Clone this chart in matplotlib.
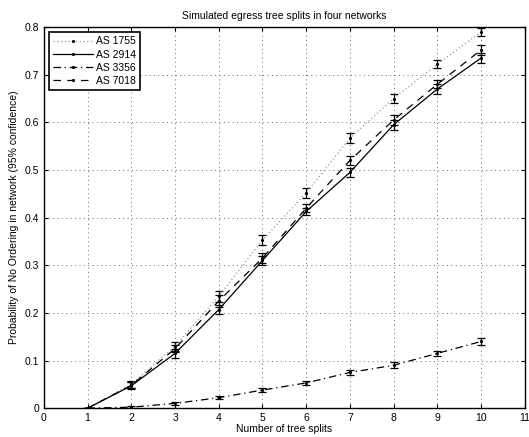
import matplotlib
matplotlib.use("Agg")
import matplotlib.pyplot as plt
from matplotlib.lines import Line2D

plt.rcParams['font.family'] = ['Liberation Sans', 'DejaVu Sans']

splits = [1, 2, 3, 4, 5, 6, 7, 8, 9, 10]
as1755 = [0.0, 0.050, 0.130, 0.235, 0.353, 0.452, 0.567, 0.650, 0.722, 0.790]
as1755_err = [0.0, 0.007, 0.009, 0.012, 0.010, 0.010, 0.010, 0.009, 0.008, 0.008]
as2914 = [0.0, 0.047, 0.115, 0.207, 0.310, 0.413, 0.495, 0.595, 0.670, 0.735]
as2914_err = [0.0, 0.007, 0.010, 0.010, 0.010, 0.008, 0.010, 0.010, 0.010, 0.010]
as3356 = [0.0, 0.002, 0.010, 0.022, 0.038, 0.053, 0.075, 0.090, 0.115, 0.140]
as3356_err = [0.0, 0.002, 0.003, 0.003, 0.004, 0.005, 0.006, 0.006, 0.006, 0.007]
as7018 = [0.0, 0.048, 0.125, 0.225, 0.315, 0.420, 0.520, 0.605, 0.680, 0.752]
as7018_err = [0.0, 0.006, 0.008, 0.012, 0.010, 0.008, 0.010, 0.010, 0.008, 0.010]

labels = ['AS 1755', 'AS 2914', 'AS 3356', 'AS 7018']
styles = [(0, (1, 2)), '-', (0, (6, 3, 1, 3)), (0, (6, 5))]
colors = ['#999999', 'black', 'black', 'black']

fig = plt.figure(figsize=(5.29, 4.37), dpi=100)
ax = fig.add_axes([0.083, 0.066, 0.909, 0.872])

series = [(as1755, as1755_err), (as2914, as2914_err), (as3356, as3356_err), (as7018, as7018_err)]
for (ys, es), lab, ls, c in zip(series, labels, styles, colors):
    ax.errorbar(splits, ys, yerr=es, fmt='.', linestyle=ls, color=c, ecolor='black',
                markersize=2.5, markerfacecolor='black', markeredgecolor='black',
                linewidth=0.9, elinewidth=0.9, capsize=3, capthick=0.9, label=lab)

ax.set_xlim(0, 11)
ax.set_ylim(0, 0.8)
ax.set_xticks(range(0, 12))
ax.set_yticks([0, 0.1, 0.2, 0.3, 0.4, 0.5, 0.6, 0.7, 0.8])
ax.set_yticklabels(['0', '0.1', '0.2', '0.3', '0.4', '0.5', '0.6', '0.7', '0.8'])
ax.grid(True, linestyle=(0, (1, 3.5)), color='#666666', linewidth=0.7)
ax.tick_params(direction='in', labelsize=7.5, length=3, top=True, right=True)
for s in ax.spines.values():
    s.set_linewidth(1.0)
ax.set_title('Simulated egress tree splits in four networks', fontsize=7.5)
ax.set_xlabel('Number of tree splits', fontsize=7.5, labelpad=1)
ax.set_ylabel('Probability of No Ordering in network (95% confidence)', fontsize=7.5)

hs = [Line2D([], [], linestyle=ls, color=c, marker='.', markersize=2.5,
             markerfacecolor='black', markeredgecolor='black', linewidth=0.9)
      for ls, c in zip(styles, colors)]
leg = ax.legend(hs, labels, loc='upper left', fontsize=7.5, fancybox=False,
                edgecolor='black', framealpha=1, borderpad=0.4, labelspacing=0.3,
                handlelength=3.8, handletextpad=0.3, borderaxespad=0.5)
leg.get_frame().set_linewidth(1.2)

fig.savefig('out.png', dpi=100)
